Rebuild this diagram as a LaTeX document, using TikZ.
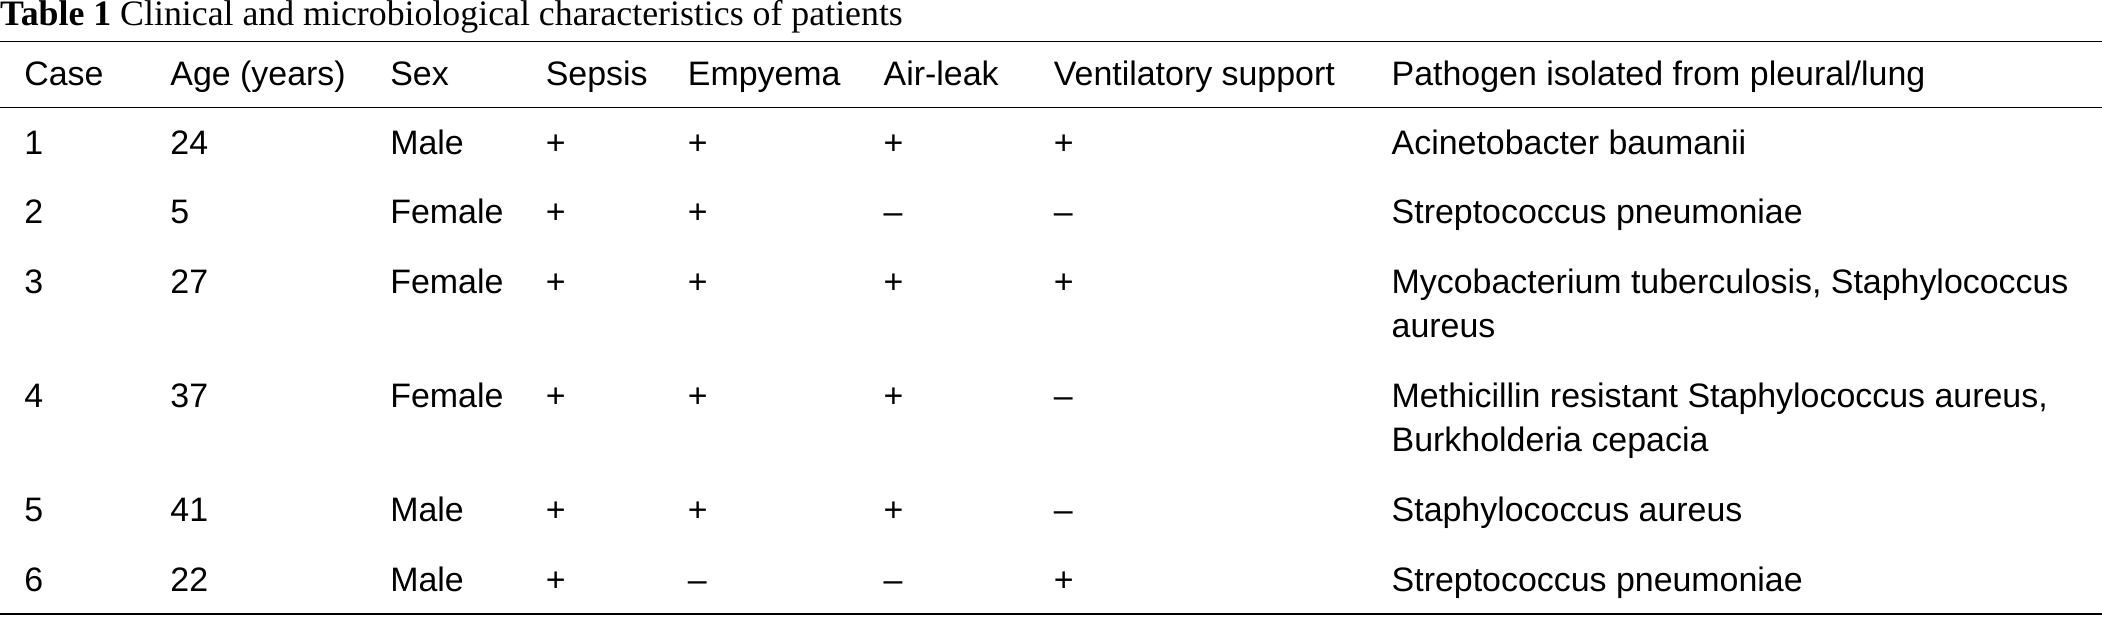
\documentclass[tikz,border=0pt]{standalone}
\usepackage{fontspec}
\setmainfont{Liberation Sans}
\newfontfamily\tfont{Liberation Serif}
\newcommand\tabrow[9]{%
  \node[cell] (r#1a) at (18,#2) {#1};
  \node[cell] (r#1b) at (127,#2) {#3};
  \node[cell] (r#1c) at (291,#2) {#4};
  \node[cell] (r#1d) at (407,#2) {#5};
  \node[cell] (r#1e) at (513,#2) {#6};
  \node[cell] (r#1f) at (659,#2) {#7};
  \node[cell] (r#1g) at (786,#2) {#8};
  \node[cell] (r#1h) at (1038,#2) {#9};}
\begin{document}
\begin{tikzpicture}[x=0.05cm,y=-0.05cm,
  cell/.style={anchor=base west,inner sep=0,font=\fontsize{36}{43}\selectfont},
  rule/.style={line width=1.6pt}]
\useasboundingbox (0,0) rectangle (1568,460);
\node[anchor=base west,inner sep=0,font=\fontsize{38}{45}\selectfont\tfont] (title) at (0,19) {\textbf{Table 1} Clinical and microbiological characteristics of patients};
\draw[rule] (0,31) -- (1568,31);
\draw[line width=1pt] (0,80) -- (1568,80);
\draw[rule] (0,458) -- (1568,458);
\node[cell] (h1) at (18,64) {Case};
\node[cell] (h2) at (127,64) {Age (years)};
\node[cell] (h3) at (291,64) {Sex};
\node[cell] (h4) at (407,64) {Sepsis};
\node[cell] (h5) at (513,64) {Empyema};
\node[cell] (h6) at (659,64) {Air-leak};
\node[cell] (h7) at (786,64) {Ventilatory support};
\node[cell] (h8) at (1038,64) {Pathogen isolated from pleural/lung};
\tabrow{1}{115}{24}{Male}{+}{+}{+}{+}{Acinetobacter baumanii}
\tabrow{2}{167}{5}{Female}{+}{+}{--}{--}{Streptococcus pneumoniae}
\tabrow{3}{219}{27}{Female}{+}{+}{+}{+}{Mycobacterium tuberculosis, Staphylococcus}
\tabrow{4}{304}{37}{Female}{+}{+}{+}{--}{Methicillin resistant Staphylococcus aureus,}
\tabrow{5}{389}{41}{Male}{+}{+}{+}{--}{Staphylococcus aureus}
\tabrow{6}{441}{22}{Male}{+}{--}{--}{+}{Streptococcus pneumoniae}
\node[cell] (r3h2) at (1038,252) {aureus};
\node[cell] (r4h2) at (1038,337) {Burkholderia cepacia};
\end{tikzpicture}
\end{document}
